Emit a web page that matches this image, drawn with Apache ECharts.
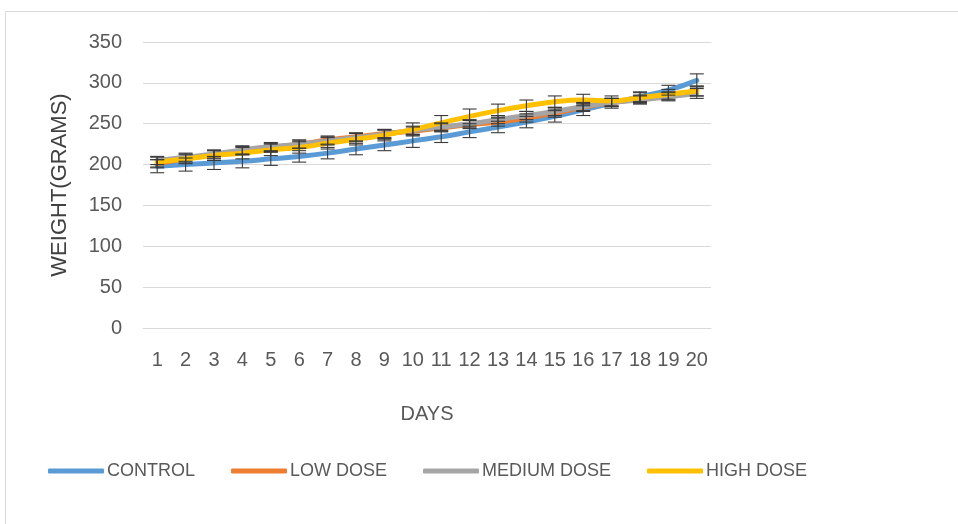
<!DOCTYPE html>
<html>
<head>
<meta charset="utf-8">
<script src="https://cdn.jsdelivr.net/npm/echarts@6/dist/echarts.min.js"></script>
<style>
html,body{margin:0;padding:0;background:#fff;}
#c{width:958px;height:524px;}
</style>
</head>
<body>
<div id="c"></div>
<script>
var days = ['1','2','3','4','5','6','7','8','9','10','11','12','13','14','15','16','17','18','19','20'];
var seriesNames = ['CONTROL','LOW DOSE','MEDIUM DOSE','HIGH DOSE'];
var controlValues = [198, 200, 202, 204, 207, 210, 214, 219, 224, 229, 234, 240, 246, 252, 259, 267, 275, 283, 291, 303];
var lowDoseValues = [201, 207, 212, 217, 221, 225, 230, 234, 238, 241, 245, 249, 252, 257, 263, 270, 276, 280, 284, 290];
var mediumDoseValues = [205, 209, 213, 218, 222, 225, 229, 233, 237, 242, 246, 250, 255, 260, 265, 271, 276, 279, 283, 287];
var highDoseValues = [203, 207, 211, 214, 218, 221, 226, 231, 236, 243, 251, 259, 266, 272, 277, 279, 278, 282, 286, 290];
var controlErr = [8, 8, 8, 8, 8, 7, 7, 7, 7, 8, 7, 7, 7, 7, 7, 7, 6, 6, 6, 8];
var lowDoseErr = [5, 5, 5, 5, 5, 5, 5, 5, 5, 5, 5, 5, 5, 5, 5, 5, 5, 5, 5, 6];
var mediumDoseErr = [5, 5, 5, 5, 5, 5, 5, 5, 5, 5, 5, 5, 5, 5, 5, 5, 5, 5, 5, 6];
var highDoseErr = [6, 6, 6, 7, 7, 7, 7, 7, 7, 8, 9, 9, 8, 7, 7, 7, 6, 6, 6, 6];
var yTicks = {min: 0, max: 350, interval: 50};

var colors = ['#5B9BD5', '#ED7D31', '#A5A5A5', '#FFC000'];
var allValues = [controlValues, lowDoseValues, mediumDoseValues, highDoseValues];
var allErr = [controlErr, lowDoseErr, mediumDoseErr, highDoseErr];

var chart = echarts.init(document.getElementById('c'));
var series = [];
allValues.forEach(function (vals, i) {
  series.push({
    name: seriesNames[i], type: 'line', data: vals, smooth: true,
    showSymbol: false, symbol: 'none', z: 2,
    lineStyle: {color: colors[i], width: 5, cap: 'round'},
    itemStyle: {color: colors[i]}
  });
});
allValues.forEach(function (vals, i) {
  var errData = vals.map(function (v, k) { return [k, v - allErr[i][k], v + allErr[i][k]]; });
  series.push({
    type: 'custom', name: seriesNames[i] + ' err', z: 3, silent: true,
    data: errData,
    renderItem: function (params, api) {
      var x = api.value(0);
      var lo = api.coord([x, api.value(1)]);
      var hi = api.coord([x, api.value(2)]);
      var hw = 7;
      var st = {stroke: '#3a3a3a', lineWidth: 1.1};
      return {type: 'group', children: [
        {type: 'line', shape: {x1: lo[0], y1: lo[1], x2: hi[0], y2: hi[1]}, style: st},
        {type: 'line', shape: {x1: lo[0] - hw, y1: lo[1], x2: lo[0] + hw, y2: lo[1]}, style: st},
        {type: 'line', shape: {x1: hi[0] - hw, y1: hi[1], x2: hi[0] + hw, y2: hi[1]}, style: st}
      ]};
    }
  });
});

chart.setOption({
  animation: false,
  backgroundColor: '#fff',
  textStyle: {fontFamily: 'Liberation Sans, Arial, sans-serif'},
  graphic: [{type: 'rect', shape: {x: 5.5, y: 11.5, width: 980, height: 540}, style: {fill: 'none', stroke: '#d9d9d9', lineWidth: 1}, z: -1}],
  grid: {left: 143, right: 247, top: 42, bottom: 196, containLabel: false},
  legend: {
    data: seriesNames.map(function (n) { return {name: n, icon: 'roundRect'}; }),
    left: 43, top: 457, itemWidth: 56, itemHeight: 5, itemGap: 36,
    textStyle: {fontSize: 18, color: '#595959', padding: [0, 0, 0, -2]}
  },
  xAxis: {
    type: 'category', data: days, boundaryGap: true,
    name: 'DAYS', nameLocation: 'middle', nameGap: 76,
    nameTextStyle: {fontSize: 20, color: '#595959'},
    axisLine: {lineStyle: {color: '#d9d9d9'}}, axisTick: {show: false},
    axisLabel: {fontSize: 20, color: '#595959', margin: 22, interval: 0}
  },
  yAxis: {
    type: 'value', min: yTicks.min, max: yTicks.max, interval: yTicks.interval,
    name: 'WEIGHT(GRAMS)', nameLocation: 'middle', nameGap: 72, nameRotate: 90,
    nameTextStyle: {fontSize: 22, color: '#404040'},
    axisLine: {show: false}, axisTick: {show: false},
    splitLine: {lineStyle: {color: '#d9d9d9'}},
    axisLabel: {fontSize: 20, color: '#595959', margin: 21}
  },
  series: series
});
</script>
</body>
</html>
